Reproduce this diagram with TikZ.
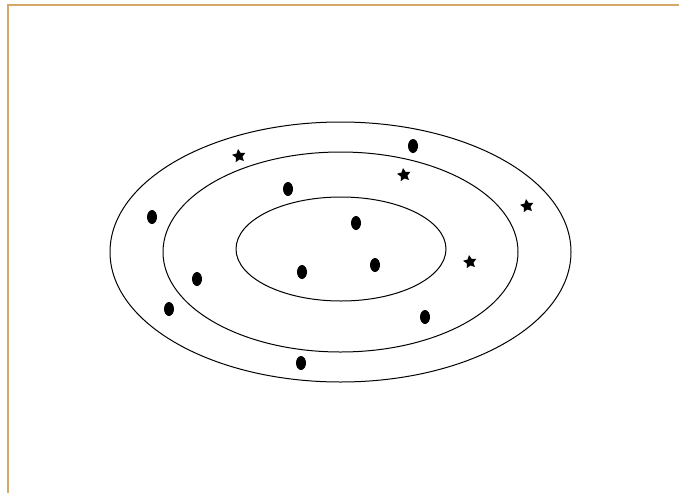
\documentclass[tikz,border=0pt]{standalone}
\usetikzlibrary{shapes.geometric}
\definecolor{frame}{RGB}{212,168,104}
\tikzset{
  ring/.style={draw=black, line width=1pt, ellipse, inner sep=0pt},
  dot/.style={fill=black, ellipse, inner sep=0pt, minimum width=10pt, minimum height=14pt},
  starmark/.style={fill=black, star, star points=5, star point ratio=2, inner sep=0pt, minimum size=14pt, rotate=8}
}
\begin{document}
\begin{tikzpicture}[x=1pt,y=-1pt]
\useasboundingbox (0,0) rectangle (679,493);
\draw[frame, line width=2pt] (8,493) -- (8,5) -- (679,5);
\node[ring, minimum width=461pt, minimum height=260pt] (outer) at (340.5,252) {};
\node[ring, minimum width=355pt, minimum height=200pt] (middle) at (340.5,252) {};
\node[ring, minimum width=210pt, minimum height=104pt] (inner) at (341,249) {};
\node[dot] (d1) at (413,146) {};
\node[dot] (d2) at (288,189) {};
\node[dot] (d3) at (152,217) {};
\node[dot] (d4) at (356,223) {};
\node[dot] (d5) at (302,272) {};
\node[dot] (d6) at (375,265) {};
\node[dot] (d7) at (197,279) {};
\node[dot] (d8) at (169,309) {};
\node[dot] (d9) at (425,317) {};
\node[dot] (d10) at (301,363) {};
\node[starmark] (s1) at (239,156) {};
\node[starmark] (s2) at (404,175) {};
\node[starmark] (s3) at (527,206) {};
\node[starmark] (s4) at (470,262) {};
\end{tikzpicture}
\end{document}
